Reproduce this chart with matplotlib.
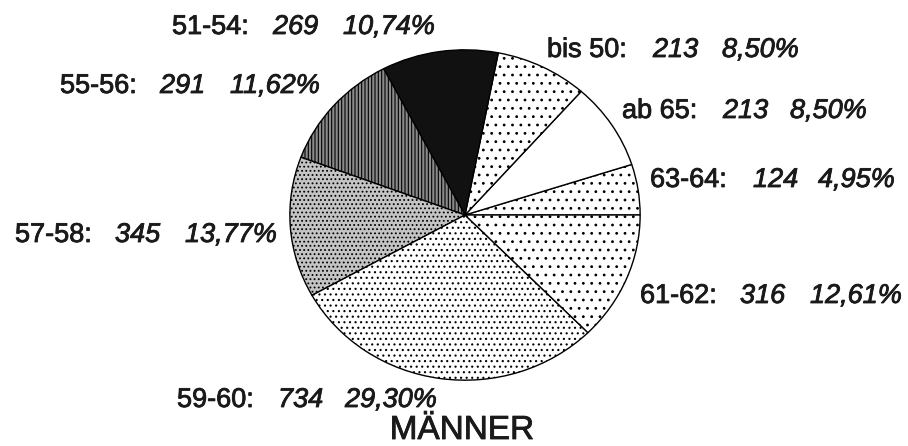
import matplotlib
matplotlib.use("Agg")
import matplotlib.pyplot as plt
import matplotlib.patheffects as pe

# data, counter-clockwise from 3 o'clock
groups = ["63-64", "ab 65", "bis 50", "51-54", "55-56", "57-58", "59-60", "61-62"]
counts = [124, 213, 213, 269, 291, 345, 734, 316]
title = "MÄNNER"

# look of each wedge (scan-like hatches)
faces = ["white", "white", "white", "#111111", "#8a8a8a", "#c4c4c4", "white", "white"]
hatches = ["..", "", "..", "", "|||||", "....", "...", ".."]

# label layout in pixels: name x, value x, percent x, baseline y (from top)
label_pos = [
    (650, 753, 818, 187),
    (622, 723, 790, 118),
    (547, 653, 722, 57),
    (172, 273, 343, 34),
    (60, 160, 230, 93),
    (15, 115, 185, 242),
    (177, 278, 345, 407),
    (640, 740, 810, 303),
]

W, H = 908, 446
plt.rcParams["font.family"] = ["Liberation Sans", "DejaVu Sans"]
plt.rcParams["hatch.linewidth"] = 0.8

fig = plt.figure(figsize=(W / 100, H / 100), dpi=100)

# pie box: center (465, 215), radii 176 x 166 px
cx, cy, rx, ry = 465, 215, 176, 166
ax = fig.add_axes([(cx - rx) / W, (H - cy - ry) / H, 2 * rx / W, 2 * ry / H])
wedges, _ = ax.pie(counts, startangle=0, counterclock=True, colors=faces,
                   wedgeprops=dict(edgecolor="black", linewidth=1.0))
for w, h in zip(wedges, hatches):
    w.set_hatch(h)
ax.set_aspect("auto")
ax.set_xlim(-1.005, 1.005)
ax.set_ylim(-1.005, 1.005)
ax.axis("off")

# slightly heavier strokes, like the scanned print
ink = "#1a1a1a"
heavy = [pe.withStroke(linewidth=0.6, foreground=ink)]

total = sum(counts)
fs = 19.5
for g, n, (xn, xv, xp, yb) in zip(groups, counts, label_pos):
    pct = f"{n / total * 100:.2f}".replace(".", ",") + "%"
    y = (H - yb) / H
    fig.text(xn / W, y, g + ":", fontsize=fs, va="baseline", ha="left",
             color=ink, path_effects=heavy)
    fig.text(xv / W, y, str(n), fontsize=fs, style="italic", va="baseline",
             ha="left", color=ink, path_effects=heavy)
    fig.text(xp / W, y, pct, fontsize=fs, style="italic", va="baseline",
             ha="left", color=ink, path_effects=heavy)

fig.text(462 / W, (H - 439) / H, title, fontsize=24, ha="center", va="baseline",
         color=ink, path_effects=heavy)

fig.savefig("out.png", dpi=100)
